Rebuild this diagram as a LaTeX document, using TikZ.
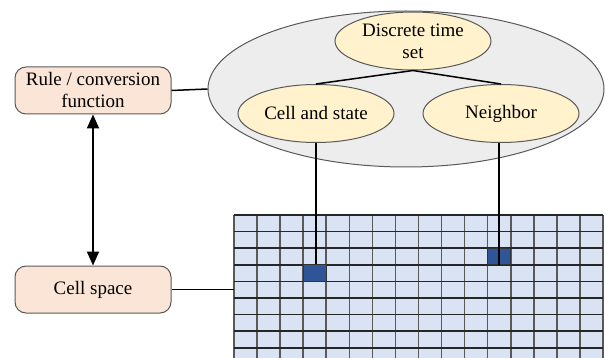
\documentclass[tikz,border=0pt]{standalone}
\usepackage{fontspec}
\setmainfont{Liberation Serif}
\usetikzlibrary{shapes.geometric,arrows.meta}
\definecolor{boxfill}{HTML}{FBE5D6}
\definecolor{ellfill}{HTML}{FFF2CC}
\definecolor{envfill}{HTML}{EDEDED}
\definecolor{gridfill}{HTML}{DAE3F3}
\definecolor{cellfill}{HTML}{2F5597}
\definecolor{edge}{HTML}{595959}
\tikzset{
  txt/.style={font=\fontsize{19}{22}\selectfont, align=center},
  rbox/.style={txt, draw=edge, line width=1pt, fill=boxfill, rounded corners=11pt,
    minimum width=156pt, minimum height=47pt, inner sep=0pt},
  oval/.style={txt, ellipse, draw=edge, line width=1pt, fill=ellfill,
    minimum width=156pt, minimum height=58pt, inner sep=0pt},
  conn/.style={line width=1.5pt, black},
  gridline/.style={line width=1.6pt},
  cellmark/.style={draw=black!80, line width=1.2pt, fill=cellfill, minimum width=23pt,
    minimum height=16.6pt, inner sep=0pt}
}
\begin{document}
\begin{tikzpicture}[x=1pt,y=-1pt]
\useasboundingbox (0,0) rectangle (605,358);
\clip (0,0) rectangle (605,358);
% environment ellipse
\node[ellipse, draw=edge, line width=1pt, fill=envfill, minimum width=396pt,
  minimum height=156pt, inner sep=0pt] (env) at (406,89) {};
\node[oval] (dt) at (413,41) {Discrete time\\set};
\node[oval] (cs) at (316,113.5) {Cell and state};
\node[oval] (nb) at (501,113.5) {Neighbor};
\draw[conn] (dt.south) -- (cs.north);
\draw[conn] (dt.south) -- (nb.north);
% boxes
\node[rbox] (rule) at (93,90.5) {Rule / conversion\\function};
\node[rbox] (space) at (93,289.5) {Cell space};
% grid
\node[draw=none, fill=gridfill, minimum width=369pt, minimum height=150pt, inner sep=0pt,
  anchor=north west] (grid) at (234,215) {};
\foreach \i in {0,...,16} {
  \draw[gridline, black!65] ({234+23.0625*\i},215) -- ({234+23.0625*\i},365);
}
\foreach \j in {0,...,9} {
  \draw[gridline, black!85] (234,{215+16.6*\j}) -- (603,{215+16.6*\j});
}
\node[cellmark] (c1) at ({234+23.0625*3.5},{215+16.6*3.5}) {};
\node[cellmark] (c2) at ({234+23.0625*11.5},{215+16.6*2.5}) {};
% connectors
\draw[conn] (rule.east) -- (env.west);
\draw[conn] (space.east) -- (space.east -| grid.west);
\draw[line width=2pt, {Triangle[length=14pt,width=12pt]}-{Triangle[length=14pt,width=12pt]}]
  (rule.south) -- (space.north);
\draw[conn] (cs.south) -- (cs.south |- c1.north);
\draw[conn] (c2.south) -- (c2.south |- nb.south);
\end{tikzpicture}
\end{document}
